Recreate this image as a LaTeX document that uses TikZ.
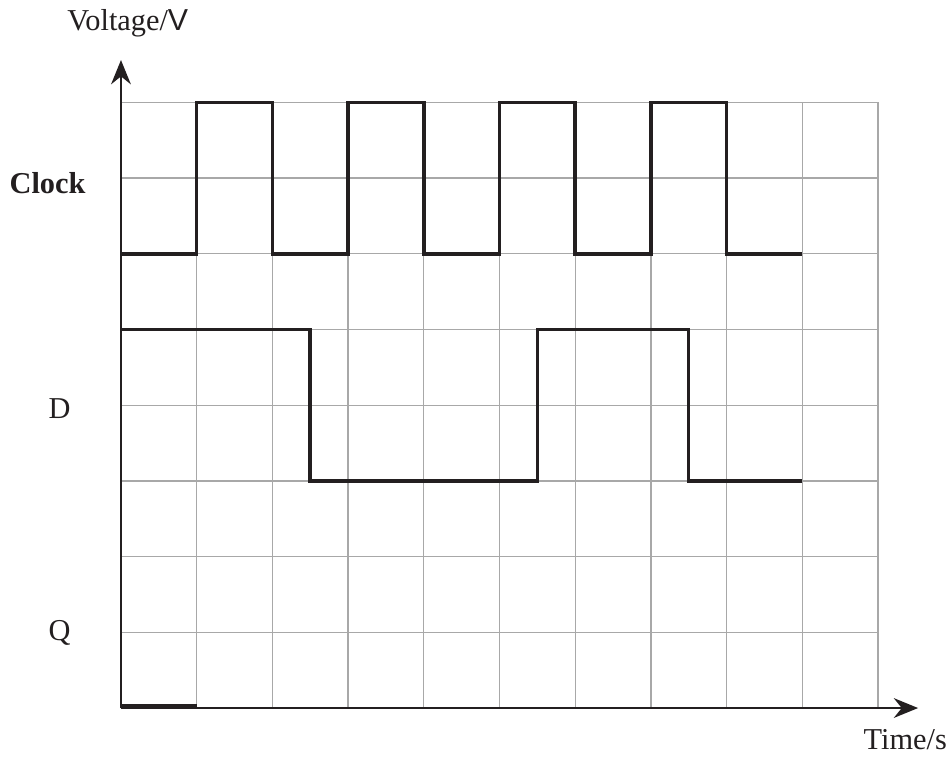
\documentclass[tikz,border=0pt]{standalone}
\usepackage{fontspec}
\setmainfont{Liberation Serif}
\newfontfamily\unitfont{Liberation Sans}
\usetikzlibrary{arrows.meta}
\definecolor{gridcol}{HTML}{A8A8A8}
\definecolor{wavecol}{HTML}{231F20}

\begin{document}
\begin{tikzpicture}[
  font=\fontsize{11.4}{14}\selectfont,
  gridline/.style={draw=gridcol, line width=0.5pt},
  axis/.style={-{Stealth[length=3.2mm, width=2.6mm]}, line width=1pt, draw=wavecol},
  wave/.style={draw=wavecol, line width=1.3pt, line join=miter},
  siglabel/.style={anchor=center, text=wavecol}
]
\useasboundingbox (-1.598,-0.687) rectangle (10.978,9.353);

% Grid
\foreach \x in {1,...,10}
  \draw[gridline] (\x,0) -- (\x,8);
\foreach \y in {1,...,8}
  \draw[gridline] (0,\y) -- (10,\y);

% Axes
\coordinate (origin) at (0,0);
\coordinate (xend) at (10.53,0);
\coordinate (yend) at (0,8.56);
\draw[axis] (origin) -- (xend);
\draw[axis] (origin) -- (yend);

% Clock: low 6, high 8
\draw[wave] (0,6)
  \foreach \k in {0,2,4,6} {
    -- (\k+1,6) -- (\k+1,8) -- (\k+2,8) -- (\k+2,6)
  } -- (9,6);

% D: high 5, low 3
\draw[wave] (0,5) -- (2.5,5) -- (2.5,3) -- (5.5,3) -- (5.5,5)
  -- (7.5,5) -- (7.5,3) -- (9,3);

% Q: only the first interval is given
\draw[wave] (0,0.03) -- (1,0.03);

% Labels
\node[siglabel] (vlabel) at (0.09,9.04) {Voltage/{\unitfont V}};
\node[siglabel] (tlabel) at (10.36,-0.42) {Time/s};
\node[siglabel, font=\fontsize{11.4}{14}\selectfont\bfseries] (clk) at (-0.97,6.94) {Clock};
\node[siglabel] (dlabel) at (-0.81,3.96) {D};
\node[siglabel] (qlabel) at (-0.81,0.99) {Q};

\end{tikzpicture}
\end{document}
